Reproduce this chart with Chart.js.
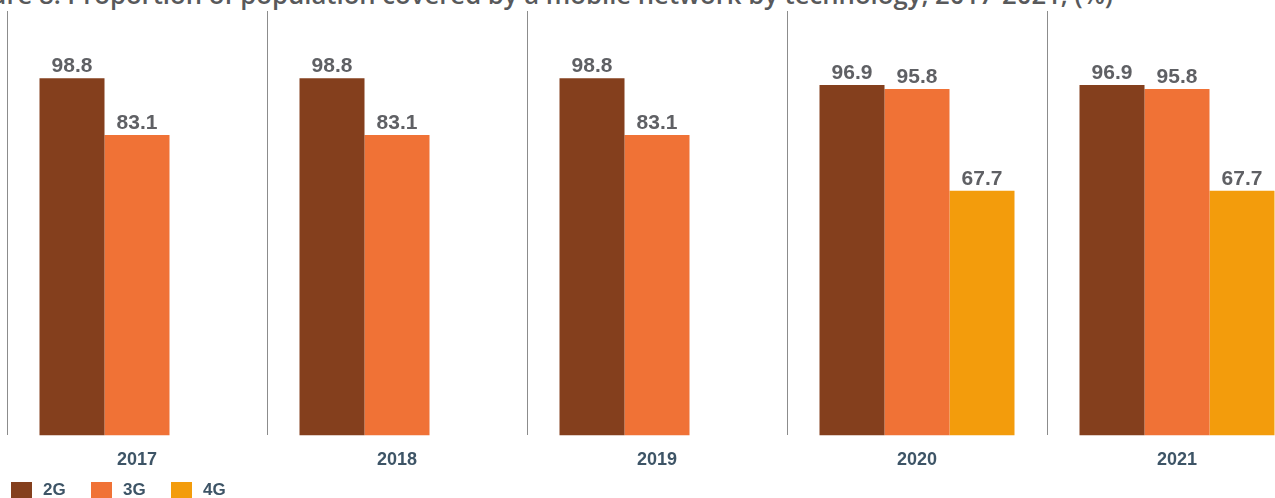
<!DOCTYPE html>
<html>
<head>
<meta charset="utf-8">
<script src="https://cdn.jsdelivr.net/npm/chart.js@4/dist/chart.umd.min.js"></script>
<style>
  html, body { margin: 0; padding: 0; width: 1275px; height: 498px; overflow: hidden; background: #fff; }
  #wrap { position: absolute; left: 0; top: 0; width: 1320px; height: 498px; }
  #title {
    position: absolute; right: 162px; top: -18px; white-space: nowrap;
    font: 600 25.7px/25.7px "Open Sans", sans-serif; color: #58595b;
  }
  #legend { position: absolute; left: 11px; top: 480px; display: flex; }
  .item { display: flex; align-items: center; width: 80px; font: bold 17px "Liberation Sans", Arial, sans-serif; color: #3d5466; }
  .box { width: 21px; height: 16px; margin-right: 11px; }
</style>
</head>
<body>
<div id="title">Figure 8: Proportion of population covered by a mobile network by technology, 2017-2021, (%)</div>
<div id="wrap"><canvas id="myChart" width="1320" height="498"></canvas></div>
<div id="legend"></div>
<script>
let years = ["2017", "2018", "2019", "2020", "2021"];
let seriesNames = ["2G", "3G", "4G"];
let cov2G = [98.8, 98.8, 98.8, 96.9, 96.9];
let cov3G = [83.1, 83.1, 83.1, 95.8, 95.8];
let cov4G = [null, null, null, 67.7, 67.7];
let colors = ["#843f1d", "#f07236", "#f39c0c"];

// value labels above the bars
const barLabels = {
  id: "barLabels",
  afterDatasetsDraw(chart) {
    const ctx = chart.ctx;
    ctx.save();
    ctx.font = "bold 21px 'Liberation Sans', Arial, sans-serif";
    ctx.fillStyle = "#5f6064";
    ctx.textAlign = "center";
    ctx.textBaseline = "alphabetic";
    chart.data.datasets.forEach((ds, i) => {
      chart.getDatasetMeta(i).data.forEach((bar, j) => {
        const v = ds.data[j];
        if (v === null) return;
        ctx.fillText(v.toFixed(1), bar.x, bar.y - 6);
      });
    });
    ctx.restore();
  },
};

const data = {
  labels: years,
  datasets: [
    { label: seriesNames[0], data: cov2G, backgroundColor: colors[0] },
    { label: seriesNames[1], data: cov3G, backgroundColor: colors[1] },
    { label: seriesNames[2], data: cov4G, backgroundColor: colors[2] },
  ],
};

const config = {
  type: "bar",
  data: data,
  options: {
    responsive: false,
    animation: false,
    categoryPercentage: 0.75,
    barPercentage: 1.0,
    layout: { padding: { top: 11, left: 7, right: 13, bottom: 13 } },
    plugins: {
      legend: { display: false },
      tooltip: { enabled: false },
    },
    scales: {
      x: {
        border: { display: false },
        grid: { offset: true, drawTicks: false, color: "#8c8c8c", lineWidth: 1 },
        ticks: {
          padding: 14,
          color: "#3d5466",
          font: { family: "'Liberation Sans', Arial, sans-serif", size: 18, weight: "bold" },
        },
      },
      y: { display: false, min: 0, max: 117.4 },
    },
  },
  plugins: [barLabels],
};

const myChart = new Chart(document.getElementById("myChart"), config);

// legend row
const legend = document.getElementById("legend");
seriesNames.forEach((name, i) => {
  const item = document.createElement("div");
  item.className = "item";
  item.innerHTML = '<span class="box" style="background:' + colors[i] + '"></span>' + name;
  legend.appendChild(item);
});
</script>
</body>
</html>
